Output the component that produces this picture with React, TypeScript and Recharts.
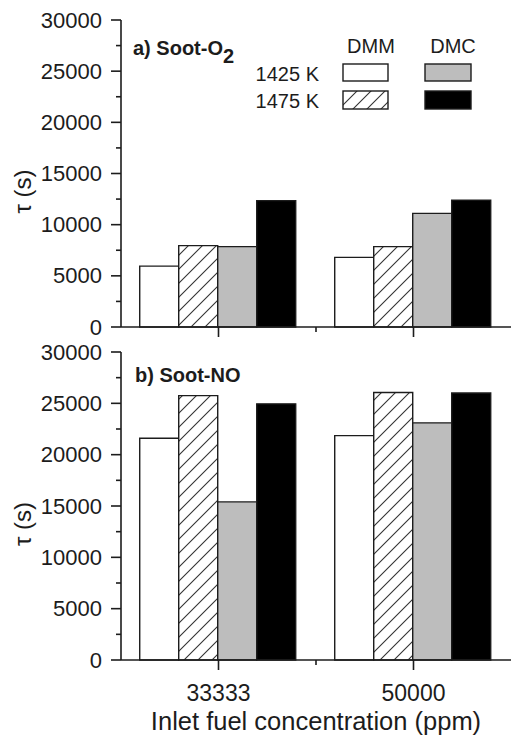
import React from 'react';
import { BarChart, Bar, XAxis, YAxis, Label } from 'recharts';

const categories = ['33333', '50000'];
const yTicks = [0, 2500, 5000, 7500, 10000, 12500, 15000, 17500, 20000, 22500, 25000, 27500, 30000];
const majorEvery = 5000;

// a) Soot-O2
const o2Dmm1425 = [5950, 6800];
const o2Dmm1475 = [7950, 7850];
const o2Dmc1425 = [7850, 11100];
const o2Dmc1475 = [12350, 12400];

// b) Soot-NO
const noDmm1425 = [21600, 21850];
const noDmm1475 = [25750, 26050];
const noDmc1425 = [15400, 23100];
const noDmc1475 = [24950, 26000];

const FONT = '"Liberation Sans", Arial, Helvetica, sans-serif';
const INK = '#1c1c1c';
const GRAY = '#bdbdbd';
const AX_W = 1.6;

const buildRows = (a: number[], b: number[], c: number[], d: number[]) =>
  categories.map((cat, i) => ({ cat, dmm1425: a[i], dmm1475: b[i], dmc1425: c[i], dmc1475: d[i] }));

const o2Rows = buildRows(o2Dmm1425, o2Dmm1475, o2Dmc1425, o2Dmc1475);
const noRows = buildRows(noDmm1425, noDmm1475, noDmc1425, noDmc1475);

const HatchDef = ({ id }: { id: string }) => (
  <defs>
    <pattern id={id} patternUnits="userSpaceOnUse" width={14} height={14}>
      <rect width={14} height={14} fill="#fff" />
      <path d="M-2,2 L2,-2 M0,14 L14,0 M12,16 L16,12" stroke="#333" strokeWidth={1.1} />
    </pattern>
  </defs>
);

const LeftTick = (props: any) => {
  const { x, y, payload } = props;
  const major = payload.value % majorEvery === 0;
  return (
    <g>
      <line x1={x - (major ? 10 : 5)} x2={x} y1={y} y2={y} stroke={INK} strokeWidth={AX_W} />
      {major && (
        <text x={x - 19} y={y} textAnchor="end" dominantBaseline="central" fontSize={22} fontFamily={FONT} fill={INK}>
          {payload.value}
        </text>
      )}
    </g>
  );
};

const RightTick = (props: any) => {
  const { x, y, payload } = props;
  const major = payload.value % majorEvery === 0;
  return <line x1={x - (major ? 9 : 5)} x2={x} y1={y} y2={y} stroke={INK} strokeWidth={AX_W} />;
};

const makeBottomTick = (withLabels: boolean) => (props: any) => {
  const { x, y, payload, index } = props;
  const half = payload && typeof payload.offset === 'number' && payload.offset > 0 ? payload.offset : 97.5;
  return (
    <g>
      <line x1={x} x2={x} y1={y} y2={y + 10} stroke={INK} strokeWidth={AX_W} />
      {index === 0 && <line x1={x + half} x2={x + half} y1={y} y2={y + 5} stroke={INK} strokeWidth={AX_W} />}
      {withLabels && (
        <text x={x} y={y + 41} textAnchor="middle" fontSize={23} fontFamily={FONT} fill={INK}>
          {payload.value}
        </text>
      )}
    </g>
  );
};

const TopTick = (props: any) => {
  const { x, y, payload, index } = props;
  const half = payload && typeof payload.offset === 'number' && payload.offset > 0 ? payload.offset : 97.5;
  return (
    <g>
      <line x1={x} x2={x} y1={y} y2={y + 8} stroke={INK} strokeWidth={AX_W} />
      {index === 0 && <line x1={x + half} x2={x + half} y1={y} y2={y + 4} stroke={INK} strokeWidth={AX_W} />}
    </g>
  );
};

const YTitle = (p: any) => {
  const vb = p.viewBox || { y: 0, height: 0 };
  const cx = 31;
  const cy = vb.y + vb.height / 2 + 18;
  return (
    <text x={cx} y={cy} transform={`rotate(-90 ${cx} ${cy})`} textAnchor="middle" fontSize={24} fontFamily={FONT} fill={INK}>
      τ (s)
    </text>
  );
};

const XTitle = (p: any) => {
  const vb = p.viewBox || { x: 0, y: 0, width: 0 };
  return (
    <text x={vb.x + vb.width / 2} y={vb.y + 70} textAnchor="middle" fontSize={25.5} fontFamily={FONT} fill={INK}>
      Inlet fuel concentration (ppm)
    </text>
  );
};

const Panel = ({ rows, hatchId, height, marginTop, xHeight, labels }: any) => (
  <BarChart
    width={512}
    height={height}
    data={rows}
    margin={{ top: marginTop, right: 1, left: 0, bottom: 0 }}
    barCategoryGap="9.6%"
    barGap={0}
  >
    <HatchDef id={hatchId} />
    <XAxis
      dataKey="cat"
      xAxisId="top"
      orientation="top"
      height={0}
      tickSize={0}
      tickMargin={0}
      tick={TopTick}
      interval={0}
      axisLine={{ stroke: INK, strokeWidth: AX_W }}
      tickLine={false}
    />
    <XAxis
      dataKey="cat"
      height={xHeight}
      tickSize={0}
      tickMargin={0}
      tick={makeBottomTick(labels)}
      interval={0}
      axisLine={{ stroke: INK, strokeWidth: AX_W }}
      tickLine={false}
    >
      {labels && <Label content={XTitle} />}
    </XAxis>
    <YAxis
      domain={[0, 30000]}
      ticks={yTicks}
      width={121}
      tickSize={0}
      tickMargin={0}
      tick={LeftTick}
      interval={0}
      axisLine={{ stroke: INK, strokeWidth: AX_W }}
      tickLine={false}
    >
      <Label content={YTitle} />
    </YAxis>
    <YAxis
      yAxisId="right"
      orientation="right"
      domain={[0, 30000]}
      ticks={yTicks}
      width={0}
      tickSize={0}
      tickMargin={0}
      tick={RightTick}
      interval={0}
      axisLine={{ stroke: INK, strokeWidth: AX_W }}
      tickLine={false}
    />
    <Bar dataKey="dmm1425" fill="#ffffff" stroke={INK} strokeWidth={1.4} isAnimationActive={false} />
    <Bar dataKey="dmm1475" fill={`url(#${hatchId})`} stroke={INK} strokeWidth={1.4} isAnimationActive={false} />
    <Bar dataKey="dmc1425" fill={GRAY} stroke={INK} strokeWidth={1.4} isAnimationActive={false} />
    <Bar dataKey="dmc1475" fill="#000000" stroke={INK} strokeWidth={1.4} isAnimationActive={false} />
  </BarChart>
);

const Overlay = () => (
  <svg width={512} height={740} style={{ position: 'absolute', left: 0, top: 0, pointerEvents: 'none' }}>
    <HatchDef id="hatchLegend" />
    <text x={133} y={55} fontSize={20} fontWeight="bold" fontFamily={FONT} fill={INK}>
      a) Soot-O<tspan dy={8}>2</tspan>
    </text>
    <text x={135} y={382} fontSize={20} fontWeight="bold" fontFamily={FONT} fill={INK}>
      b) Soot-NO
    </text>
    <text x={371} y={53} textAnchor="middle" fontSize={20} fontFamily={FONT} fill={INK}>DMM</text>
    <text x={453} y={53} textAnchor="middle" fontSize={20} fontFamily={FONT} fill={INK}>DMC</text>
    <text x={319} y={81} textAnchor="end" fontSize={20} fontFamily={FONT} fill={INK}>1425 K</text>
    <text x={319} y={108} textAnchor="end" fontSize={20} fontFamily={FONT} fill={INK}>1475 K</text>
    <rect x={343} y={64} width={45} height={17} fill="#fff" stroke={INK} strokeWidth={1.4} />
    <rect x={343} y={91} width={45} height={18} fill="url(#hatchLegend)" stroke={INK} strokeWidth={1.4} />
    <rect x={425} y={64} width={46} height={17} fill={GRAY} stroke={INK} strokeWidth={1.4} />
    <rect x={425} y={91} width={46} height={18} fill="#000" stroke={INK} strokeWidth={1.4} />
  </svg>
);

export default function App() {
  return (
    <div style={{ position: 'absolute', left: 0, top: 0, width: 512, height: 740, background: '#fff', overflow: 'hidden' }}>
      <div style={{ position: 'absolute', left: 0, top: 0 }}>
        <Panel rows={o2Rows} hatchId="hatchA" height={340} marginTop={20} xHeight={13} labels={false} />
      </div>
      <div style={{ position: 'absolute', left: 0, top: 340 }}>
        <Panel rows={noRows} hatchId="hatchB" height={400} marginTop={12} xHeight={80} labels={true} />
      </div>
      <Overlay />
    </div>
  );
}
